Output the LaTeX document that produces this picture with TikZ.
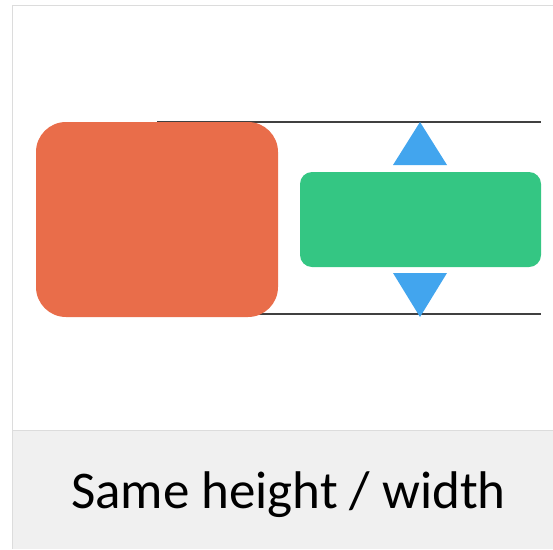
\documentclass[tikz,border=0pt]{standalone}
\usepackage{fontspec}
\setmainfont{Carlito}
\usetikzlibrary{positioning}

\definecolor{boxorange}{HTML}{E96D4A}
\definecolor{boxgreen}{HTML}{34C683}
\definecolor{arrowblue}{HTML}{42A5EE}
\definecolor{panelgray}{HTML}{F0F0F0}
\definecolor{framegray}{HTML}{DCDCDC}

\begin{document}
\begin{tikzpicture}[x=1pt,y=-1pt,
      shape box/.style={draw=none,rectangle,inner sep=0pt},
      guide/.style={draw=black!75,line width=1.1pt},
      marker/.style={fill=arrowblue}]

    \useasboundingbox (0,0) rectangle (553,549);

    % frame and caption panel
    \fill[panelgray] (12.5,430) rectangle (553,549);
    \draw[framegray,line width=1.2pt] (553,5.5) -- (12.5,5.5) -- (12.5,549);
    \draw[framegray,line width=1pt] (12.5,430) -- (553,430);

    % guide lines
    \coordinate (topL) at (157,122);
    \coordinate (topR) at (541,122);
    \coordinate (botL) at (157,314);
    \coordinate (botR) at (541,314);
    \draw[guide] (topL) -- (topR);
    \draw[guide] (botL) -- (botR);

    \node[shape box,fill=boxorange,minimum width=242pt,minimum height=195pt,
      rounded corners=30pt] (big) at (157,219.5) {};
    \node[shape box,fill=boxgreen,minimum width=241pt,minimum height=95pt,
      rounded corners=12pt] (small) at (420.5,219.5) {};

    % arrows up / down
    \coordinate (upTip) at (420,122);
    \coordinate (downTip) at (420,317);
    \fill[marker] (upTip) -- (447,165) -- (393,165) -- cycle;
    \fill[marker] (downTip) -- (447,273) -- (393,273) -- cycle;

    \node[anchor=base,inner sep=0pt,font=\fontsize{53}{62}\selectfont] (caption)
      at (288.5,508) {Same height / width};
  \end{tikzpicture}
\end{document}
